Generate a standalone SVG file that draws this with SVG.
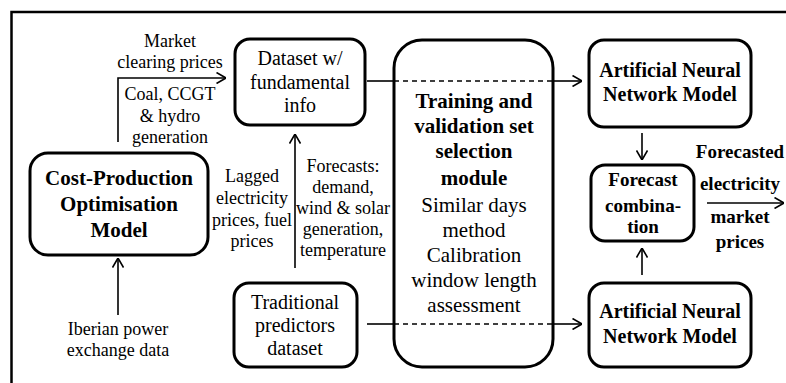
<svg xmlns="http://www.w3.org/2000/svg" width="786" height="383" viewBox="0 0 786 383">
<defs>
<marker id="ah" viewBox="0 0 10 12" refX="10" refY="6" markerWidth="10" markerHeight="12" markerUnits="userSpaceOnUse" orient="auto">
<path d="M0.5,0.5 L10,6 L0.5,11.5" fill="none" stroke="#000" stroke-width="1.6"/>
</marker>
</defs>
<rect width="786" height="383" fill="#fff"/>
<path d="M11.5,385 V12 H790" fill="none" stroke="#000" stroke-width="2.5"/>

<g id="connectors" fill="none" stroke="#000" stroke-width="1.6">
<path d="M118,142 V78 H226" marker-end="url(#ah)"/>
<path d="M118,315 V258" marker-end="url(#ah)"/>
<path d="M295,268 V134" marker-end="url(#ah)"/>
<path d="M367,81 H394"/>
<path d="M553,81 H582" marker-end="url(#ah)"/>
<path d="M367,324 H394"/>
<path d="M553,324 H582" marker-end="url(#ah)"/>
<path d="M642,133 V160" marker-end="url(#ah)"/>
<path d="M642,275 V248" marker-end="url(#ah)"/>
<path d="M707,203 H784" marker-end="url(#ah)"/>
</g>
<g id="labels" fill="#000" text-anchor="middle">
<text font-family="Liberation Serif" font-size="18" x="170" y="47">Market</text>
<text font-family="Liberation Serif" font-size="18" x="170" y="68">clearing prices</text>
<text font-family="Liberation Serif" font-size="18" x="170" y="100">Coal, CCGT</text>
<text font-family="Liberation Serif" font-size="18" x="170" y="122">&amp; hydro</text>
<text font-family="Liberation Serif" font-size="18" x="170" y="143">generation</text>
<text font-family="Liberation Serif" font-size="18" x="252" y="182">Lagged</text>
<text font-family="Liberation Serif" font-size="18" x="252" y="204">electricity</text>
<text font-family="Liberation Serif" font-size="18" x="252" y="226">prices, fuel</text>
<text font-family="Liberation Serif" font-size="18" x="252" y="247">prices</text>
<text font-family="Liberation Serif" font-size="18" x="343" y="172">Forecasts:</text>
<text font-family="Liberation Serif" font-size="18" x="343" y="193">demand,</text>
<text font-family="Liberation Serif" font-size="18" x="343" y="214">wind &amp; solar</text>
<text font-family="Liberation Serif" font-size="18" x="343" y="235">generation,</text>
<text font-family="Liberation Serif" font-size="18" x="343" y="256">temperature</text>
<text font-family="Liberation Serif" font-size="18" x="118" y="335">Iberian power</text>
<text font-family="Liberation Serif" font-size="18" x="118" y="356">exchange data</text>
<text font-family="Liberation Serif" font-size="19" font-weight="bold" x="740" y="158">Forecasted</text>
<text font-family="Liberation Serif" font-size="19" font-weight="bold" x="740" y="190">electricity</text>
<text font-family="Liberation Serif" font-size="19" font-weight="bold" x="740" y="223">market</text>
<text font-family="Liberation Serif" font-size="19" font-weight="bold" x="740" y="248">prices</text>
</g>

<g id="cost" text-anchor="middle">
<rect x="30" y="153" width="178" height="102" rx="18" fill="#fff" stroke="#000" stroke-width="3"/>
<text font-family="Liberation Serif" font-size="21" font-weight="bold" x="119" y="185">Cost-Production</text>
<text font-family="Liberation Serif" font-size="21" font-weight="bold" x="119" y="211">Optimisation</text>
<text font-family="Liberation Serif" font-size="21" font-weight="bold" x="119" y="237">Model</text>
</g>

<g id="dataset" text-anchor="middle">
<rect x="235" y="39" width="130" height="86" rx="15" fill="#fff" stroke="#000" stroke-width="3"/>
<text font-family="Liberation Serif" font-size="20" x="300" y="65">Dataset w/</text>
<text font-family="Liberation Serif" font-size="20" x="300" y="89">fundamental</text>
<text font-family="Liberation Serif" font-size="20" x="300" y="112">info</text>
</g>

<g id="traditional" text-anchor="middle">
<rect x="234" y="283" width="123" height="84" rx="15" fill="#fff" stroke="#000" stroke-width="3"/>
<text font-family="Liberation Serif" font-size="20" x="295" y="309">Traditional</text>
<text font-family="Liberation Serif" font-size="20" x="295" y="332">predictors</text>
<text font-family="Liberation Serif" font-size="20" x="295" y="355">dataset</text>
</g>

<g id="module" text-anchor="middle">
<rect x="394" y="40" width="159" height="327" rx="28" fill="#fff" stroke="#000" stroke-width="3"/>
<path d="M394,81 H553 M394,324 H553" fill="none" stroke="#000" stroke-width="1.4" stroke-dasharray="5,4"/>
<text font-family="Liberation Serif" font-size="21" font-weight="bold" x="474" y="108">Training and</text>
<text font-family="Liberation Serif" font-size="21" font-weight="bold" x="474" y="133">validation set</text>
<text font-family="Liberation Serif" font-size="21" font-weight="bold" x="474" y="158">selection</text>
<text font-family="Liberation Serif" font-size="21" font-weight="bold" x="474" y="185">module</text>
<text font-family="Liberation Serif" font-size="21" x="474" y="212">Similar days</text>
<text font-family="Liberation Serif" font-size="21" x="474" y="237">method</text>
<text font-family="Liberation Serif" font-size="21" x="474" y="262">Calibration</text>
<text font-family="Liberation Serif" font-size="21" x="474" y="287">window length</text>
<text font-family="Liberation Serif" font-size="21" x="474" y="312">assessment</text>
</g>

<g id="ann1" text-anchor="middle">
<rect x="589" y="40" width="162" height="87" rx="15" fill="#fff" stroke="#000" stroke-width="3"/>
<text font-family="Liberation Serif" font-size="20" font-weight="bold" x="670" y="77">Artificial Neural</text>
<text font-family="Liberation Serif" font-size="20" font-weight="bold" x="670" y="101">Network Model</text>
</g>

<g id="ann2" text-anchor="middle">
<rect x="589" y="283" width="162" height="84" rx="15" fill="#fff" stroke="#000" stroke-width="3"/>
<text font-family="Liberation Serif" font-size="20" font-weight="bold" x="670" y="318">Artificial Neural</text>
<text font-family="Liberation Serif" font-size="20" font-weight="bold" x="670" y="343">Network Model</text>
</g>

<g id="combination" text-anchor="middle">
<rect x="591" y="165" width="103" height="76" rx="14" fill="#fff" stroke="#000" stroke-width="3"/>
<text font-family="Liberation Serif" font-size="19" font-weight="bold" x="643" y="186">Forecast</text>
<text font-family="Liberation Serif" font-size="19" font-weight="bold" x="643" y="212">combina-</text>
<text font-family="Liberation Serif" font-size="19" font-weight="bold" x="643" y="233">tion</text>
</g>
</svg>
